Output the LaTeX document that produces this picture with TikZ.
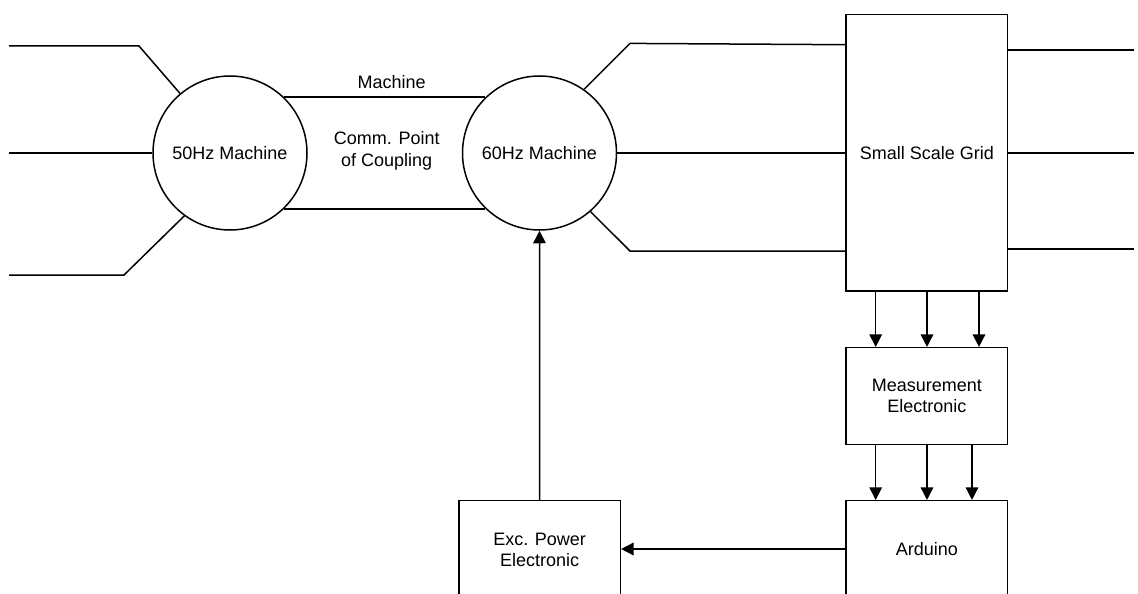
\documentclass[tikz,border=0pt]{standalone}
\usepackage{fontspec}
\setmainfont{Liberation Sans}
\usetikzlibrary{arrows.meta}
\begin{document}
\begin{tikzpicture}[x=1pt,y=-1pt,
  every node/.style={font=\fontsize{18}{21.7}\selectfont, align=center, inner sep=0pt},
  wire/.style={line width=1.5pt, line join=miter},
  arr/.style={wire, -{Triangle[length=12.5pt,width=12.5pt]}},
  machine/.style={circle, draw, line width=1.5pt, minimum size=154pt},
  block/.style={rectangle, draw, line width=1.5pt, minimum width=161.7pt},
]
\useasboundingbox (0,0) rectangle (1138,594);
\clip (0,0) rectangle (1138,594);

% machines
\node[machine] (m50) at (230,153) {50Hz Machine};
\node[machine] (m60) at (539.5,153) {60Hz Machine};

% blocks
\node[block, minimum height=276.6pt] (grid) at (926.85,152.85) {Small Scale Grid};
\node[block, minimum height=96.6pt] (meas) at (926.85,396) {Measurement\\Electronic};
\node[block, minimum height=96.6pt] (ard) at (926.85,549) {Arduino};
\node[block, minimum width=161.3pt, minimum height=98.6pt] (exc) at (539.65,550) {Exc. Power\\Electronic};

% labels between the machines
\node (lblm) at (391.7,81.7) {Machine};
\node (lblc) at (386.7,151) {Comm. Point\\of Coupling};

% feeders on the left of the 50Hz machine
\coordinate (la1) at (9,46);
\coordinate (lb1) at (139,46);
\coordinate (la2) at (9,153);
\coordinate (la3) at (9,275);
\coordinate (lb3) at (124,275);
\draw[wire] (la1) -- (lb1) -- (m50.130);
\draw[wire] (la2) -- (m50.west);
\draw[wire] (la3) -- (lb3) -- (m50.234);

% coupling between the machines
\draw[wire] (m50.46) -- (m60.134);
\draw[wire] (m50.314) -- (m60.226);

% lines from the 60Hz machine to the grid
\coordinate (ra1) at (630,43.4);
\coordinate (ra3) at (630,251);
\draw[wire] (m60.55) -- (ra1) -- (grid.west |- 0,44.7);
\draw[wire] (m60.east) -- (grid.west |- m60.east);
\draw[wire] (m60.311) -- (ra3) -- (grid.west |- ra3);

% outgoing lines on the right of the grid
\coordinate (re1) at (1134,50);
\coordinate (re2) at (1134,153);
\coordinate (re3) at (1134,249);
\draw[wire] (grid.east |- re1) -- (re1);
\draw[wire] (grid.east |- re2) -- (re2);
\draw[wire] (grid.east |- re3) -- (re3);

% measurement signals
\coordinate (s1) at (875.7,0);
\coordinate (s2) at (927,0);
\coordinate (s3) at (979,0);
\coordinate (t3) at (972,0);
\draw[arr] (s1 |- grid.south) -- (s1 |- meas.north);
\draw[arr] (s2 |- grid.south) -- (s2 |- meas.north);
\draw[arr] (s3 |- grid.south) -- (s3 |- meas.north);
\draw[arr] (s1 |- meas.south) -- (s1 |- ard.north);
\draw[arr] (s2 |- meas.south) -- (s2 |- ard.north);
\draw[arr] (t3 |- meas.south) -- (t3 |- ard.north);

% control path
\draw[arr] (ard.west) -- (ard.west -| exc.east);
\draw[arr] (exc.north) -- (m60.south);
\end{tikzpicture}
\end{document}
